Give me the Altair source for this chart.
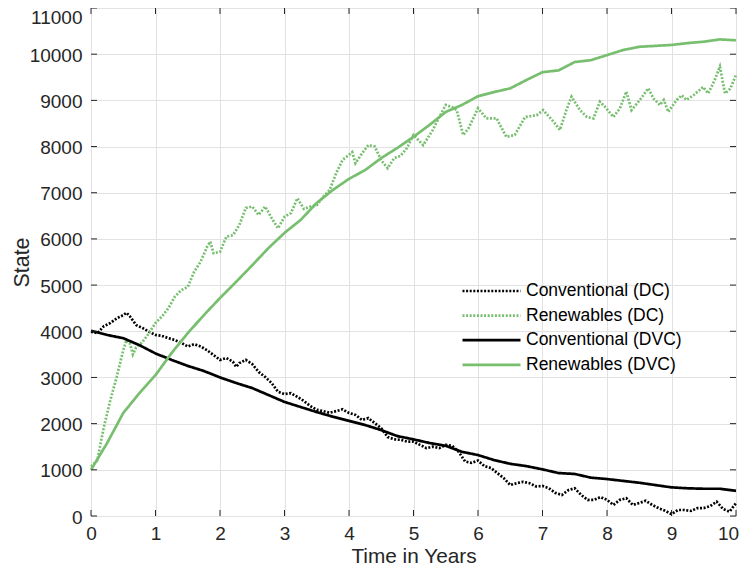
import altair as alt
import pandas as pd

FONT = "Liberation Sans"
AX = "#262626"
GRID = "#e2e2e2"
GREEN = "#77bf6f"
BLACK = "#000000"

series_names = ["Conventional (DC)", "Renewables (DC)", "Conventional (DVC)", "Renewables (DVC)"]
series_colors = [BLACK, GREEN, BLACK, GREEN]
series_dashes = [[2, 1.6], [2, 1.6], [1, 0], [1, 0]]

conv_dc_t = [0.0, 0.1, 0.2, 0.3, 0.4, 0.5, 0.55, 0.6, 0.7, 0.8, 0.9, 1.0, 1.1, 1.2, 1.3, 1.4, 1.5, 1.6, 1.7, 1.8,
             1.9, 2.0, 2.1, 2.2, 2.25, 2.3, 2.4, 2.5, 2.6, 2.7, 2.8, 2.9, 3.0, 3.1, 3.2, 3.3, 3.4, 3.5, 3.6, 3.7,
             3.8, 3.9, 4.0, 4.1, 4.2, 4.3, 4.4, 4.5, 4.6, 4.7, 4.8, 4.9, 5.0, 5.1, 5.2, 5.3, 5.4, 5.5, 5.6, 5.7,
             5.8, 5.9, 6.0, 6.1, 6.2, 6.3, 6.4, 6.5, 6.6, 6.7, 6.8, 6.9, 7.0, 7.1, 7.2, 7.3, 7.4, 7.5, 7.6, 7.7,
             7.8, 7.9, 8.0, 8.1, 8.2, 8.3, 8.4, 8.5, 8.6, 8.7, 8.8, 8.9, 9.0, 9.1, 9.2, 9.3, 9.4, 9.5, 9.6, 9.7,
             9.8, 9.9, 10.0]
conv_dc_v = [3990, 3960, 4110, 4180, 4280, 4350, 4400, 4330, 4135, 4070, 3990, 3920, 3900, 3850, 3810, 3750, 3670,
             3720, 3670, 3590, 3485, 3380, 3420, 3340, 3230, 3310, 3380, 3290, 3120, 3010, 2880, 2690, 2640, 2660,
             2580, 2490, 2380, 2300, 2270, 2235, 2270, 2310, 2230, 2190, 2080, 2120, 2010, 1900, 1710, 1660, 1650,
             1610, 1610, 1540, 1470, 1500, 1470, 1540, 1520, 1390, 1180, 1150, 1200, 1080, 1040, 930, 820, 670,
             710, 740, 710, 640, 650, 600, 500, 455, 560, 600, 455, 350, 350, 410, 350, 240, 350, 385, 240, 280,
             330, 240, 170, 115, 40, 130, 130, 110, 170, 170, 215, 310, 150, 95, 280]

ren_dc_t = [0.0, 0.1, 0.15, 0.2, 0.3, 0.4, 0.5, 0.55, 0.6, 0.65, 0.7, 0.8, 0.9, 1.0, 1.1, 1.2, 1.3, 1.4, 1.5, 1.6,
            1.7, 1.8, 1.85, 1.9, 2.0, 2.1, 2.2, 2.3, 2.4, 2.5, 2.6, 2.7, 2.8, 2.9, 3.0, 3.1, 3.2, 3.3, 3.4, 3.5,
            3.6, 3.7, 3.8, 3.9, 4.0, 4.05, 4.1, 4.2, 4.3, 4.4, 4.5, 4.6, 4.7, 4.8, 4.9, 5.0, 5.15, 5.3, 5.4, 5.5,
            5.6, 5.67, 5.77, 5.85, 6.0, 6.13, 6.29, 6.34, 6.44, 6.57, 6.73, 6.91, 7.01, 7.17, 7.27, 7.37, 7.45,
            7.58, 7.69, 7.79, 7.89, 7.97, 8.1, 8.2, 8.3, 8.38, 8.51, 8.64, 8.72, 8.82, 8.88, 8.95, 9.08, 9.16,
            9.23, 9.34, 9.49, 9.57, 9.67, 9.75, 9.83, 9.91, 10.0]
ren_dc_v = [1070, 1210, 1580, 1930, 2510, 3020, 3590, 3810, 3750, 3500, 3650, 3770, 3960, 4180, 4320, 4500, 4750,
            4890, 4960, 5290, 5510, 5830, 5940, 5690, 5720, 6050, 6080, 6300, 6670, 6700, 6520, 6700, 6450, 6230,
            6480, 6560, 6880, 6650, 6700, 6730, 6910, 7060, 7420, 7710, 7820, 7880, 7640, 7850, 8030, 8000, 7700,
            7530, 7750, 7800, 7970, 8250, 8030, 8360, 8640, 8900, 8850, 8790, 8250, 8390, 8830, 8610, 8610, 8470,
            8210, 8250, 8640, 8680, 8790, 8540, 8360, 8790, 9080, 8790, 8640, 8610, 8970, 8860, 8640, 8830, 9190,
            8790, 9010, 9260, 9040, 8900, 9010, 8750, 9010, 9110, 9010, 9110, 9290, 9150, 9440, 9730, 9150, 9250,
            9550]

dvc_t = [i * 0.25 for i in range(41)]
conv_dvc_v = [4010, 3920, 3850, 3700, 3520, 3380, 3250, 3140, 3000, 2880, 2770, 2620, 2470, 2360, 2250, 2150,
              2060, 1970, 1860, 1730, 1660, 1580, 1520, 1390, 1320, 1210, 1130, 1080, 1010, 930, 910, 830, 800,
              760, 720, 670, 620, 600, 590, 590, 545]
ren_dvc_v = [1000, 1580, 2230, 2660, 3050, 3530, 3960, 4350, 4720, 5070, 5430, 5800, 6130, 6410, 6780, 7060,
             7300, 7490, 7750, 7970, 8210, 8470, 8750, 8900, 9090, 9180, 9260, 9440, 9610, 9650, 9830, 9870,
             9980, 10090, 10160, 10180, 10200, 10240, 10270, 10320, 10300]

x_ticks = list(range(0, 11))
y_ticks = list(range(0, 11001, 1000))

rows = []
for name, ts, vs in [
    (series_names[0], conv_dc_t, conv_dc_v),
    (series_names[1], ren_dc_t, ren_dc_v),
    (series_names[2], dvc_t, conv_dvc_v),
    (series_names[3], dvc_t, ren_dvc_v),
]:
    for t, v in zip(ts, vs):
        rows.append({"t": t, "v": v, "series": name})
df = pd.DataFrame(rows)

W, H = 645, 508

xscale = alt.Scale(domain=[0, 10], nice=False, zero=False)
yscale = alt.Scale(domain=[0, 11000], nice=False)

xaxis = alt.Axis(values=x_ticks, format="d", grid=True, gridColor=GRID, gridWidth=1, ticks=False, tickSize=0,
                 domain=False, labelFont=FONT, labelFontSize=19, labelColor=AX, labelPadding=8,
                 labelFlush=False,
                 labelOffset={"condition": {"test": "datum.value == 10", "value": -8}, "value": 0},
                 titleFont=FONT, titleFontSize=20.8, titleColor=AX, titleFontWeight="normal",
                 titleBaseline="alphabetic", titleY=46)
yaxis = alt.Axis(values=y_ticks, format="d", grid=True, gridColor=GRID, gridWidth=1, ticks=False, tickSize=0,
                 domain=False, labelFont=FONT, labelFontSize=19, labelColor=AX, labelPadding=9,
                 labelFlush=False,
                 labelOffset={"condition": {"test": "datum.value == 11000", "value": 9}, "value": 1},
                 titleFont=FONT, titleFontSize=21.4, titleColor=AX, titleFontWeight="normal",
                 titleBaseline="alphabetic", titleX=-63)


def xenc():
    return alt.X("t:Q", scale=xscale, axis=xaxis, title="Time in Years")


def yenc():
    return alt.Y("v:Q", scale=yscale, axis=yaxis, title="State")


legend = alt.Legend(title=None, orient="none", legendX=370, legendY=272, symbolType="stroke",
                    symbolSize=3364, symbolStrokeWidth=2.7, clipHeight=22, rowPadding=2.6,
                    labelFont=FONT, labelFontSize=17.5, labelColor=BLACK, labelOffset=4, padding=0,
                    labelLimit=400)

lines = alt.Chart(df).mark_line(strokeWidth=2.7).encode(
    x=xenc(),
    y=yenc(),
    color=alt.Color("series:N", scale=alt.Scale(domain=series_names, range=series_colors), legend=legend),
    strokeDash=alt.StrokeDash("series:N", scale=alt.Scale(domain=series_names, range=series_dashes),
                              legend=legend),
)

xt = pd.DataFrame({"t": x_ticks})
yt = pd.DataFrame({"v": y_ticks})

bottom_ticks = alt.Chart(xt).mark_rule(color=AX, strokeWidth=1).encode(
    x=xenc(), y=alt.value(H - 6), y2=alt.value(H))
top_ticks = alt.Chart(xt).mark_rule(color=AX, strokeWidth=1).encode(
    x=xenc(), y=alt.value(0), y2=alt.value(6))
left_ticks = alt.Chart(yt).mark_rule(color=AX, strokeWidth=1).encode(
    y=yenc(), x=alt.value(0), x2=alt.value(6))
right_ticks = alt.Chart(yt).mark_rule(color=AX, strokeWidth=1).encode(
    y=yenc(), x=alt.value(W - 6), x2=alt.value(W))

chart = alt.layer(lines, bottom_ticks, top_ticks, left_ticks, right_ticks).properties(
    width=W, height=H, autosize="none",
    padding={"left": 83, "top": 0, "right": 3, "bottom": 51},
).configure_view(stroke=AX, strokeWidth=1).configure(background="white")

chart.save("out.html", embed_options={"renderer": "svg", "actions": False})
